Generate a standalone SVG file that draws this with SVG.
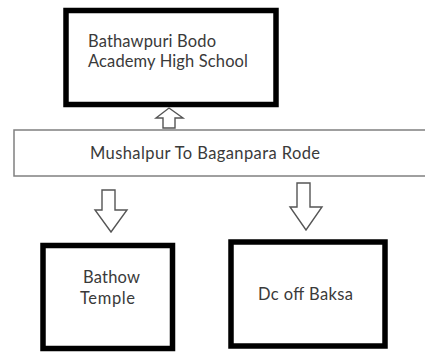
<svg xmlns="http://www.w3.org/2000/svg" width="425" height="354" viewBox="0 0 425 354">
<style>
.thick{fill:#fff;stroke:#000;stroke-width:5.5}
.thin{fill:#fff;stroke:#808080;stroke-width:1.5}
.arr{fill:#fff;stroke:#555;stroke-width:1.4;stroke-linejoin:miter}
.t{font-family:Lato,"Open Sans","Liberation Sans",sans-serif;font-size:16.5px;fill:#3a3a3a}
</style>
<rect width="425" height="354" fill="#fff"/>
<g id="school">
<rect class="thick" x="66" y="10.5" width="210" height="94"/>
<text class="t" x="88" y="47" textLength="128">Bathawpuri Bodo</text>
<text class="t" x="88" y="67" textLength="160">Academy High School</text>
</g>
<g id="road">
<rect class="thin" x="14" y="130" width="420" height="46"/>
<text class="t" x="90" y="159" textLength="230">Mushalpur To Baganpara Rode</text>
</g>
<g id="temple">
<rect class="thick" x="43" y="245.5" width="129.5" height="103"/>
<text class="t" x="83" y="283" textLength="57">Bathow</text>
<text class="t" x="80" y="304" textLength="55">Temple</text>
</g>
<g id="dc">
<rect class="thick" x="231" y="242" width="154" height="104"/>
<text class="t" x="258" y="300" textLength="95">Dc off Baksa</text>
</g>
<g id="connectors">
<polygon class="arr" points="169,108 183,118 175,118 175,128 163,128 163,118 156,118"/>
<polygon class="arr" points="102,190 115,190 115,210 127,210 111,232 95,210 102,210"/>
<polygon class="arr" points="297,183 310,183 310,207 322,207 306,230 290,207 297,207"/>
</g>
</svg>
